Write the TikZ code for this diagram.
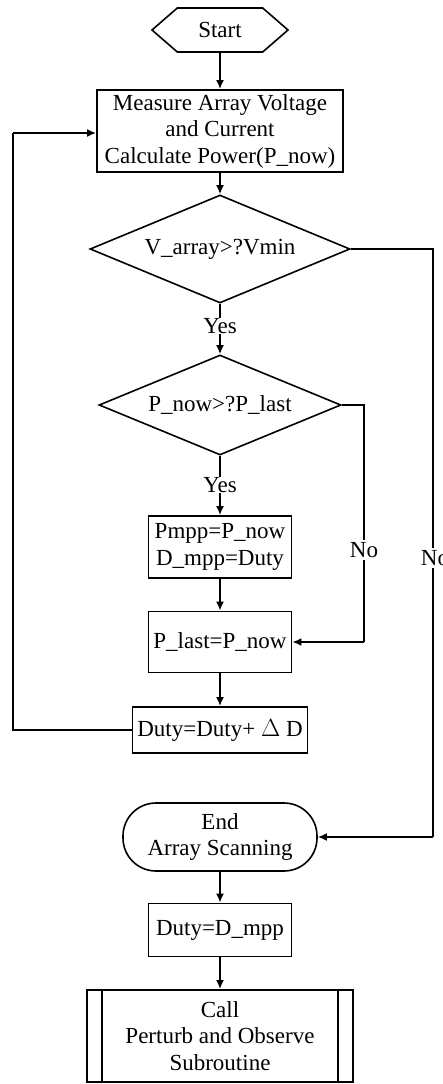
\documentclass[tikz,border=0pt]{standalone}
\usepackage{fontspec}
\setmainfont{Liberation Serif}
\usetikzlibrary{shapes.geometric,shapes.symbols,arrows.meta}
\begin{document}
\begin{tikzpicture}[x=1pt,y=-1pt,
  every node/.style={font=\fontsize{23}{26.5}\selectfont, align=center, inner sep=0pt},
  box/.style={draw, line width=1.8pt, rectangle},
  dec/.style={draw, line width=1.6pt, diamond, aspect=2.4},
  line/.style={line width=1.8pt},
  arr/.style={line width=1.8pt, -{Latex[length=9pt,width=8pt]}},
  lbl/.style={fill=white, inner sep=2pt}]
\useasboundingbox (0,0) rectangle (443,1084);
\node[draw, line width=1.6pt, signal, signal to=east and west, signal pointer angle=82,
      minimum width=136pt, minimum height=44pt] (start) at (220,30) {Start};
\node[box, minimum width=246pt, minimum height=82pt] (meas) at (220,131)
  {Measure Array Voltage\\and Current\\Calculate Power(P\_now)};
\node[dec, minimum width=260pt, minimum height=108pt] (d1) at (220,249) {V\_array>?Vmin};
\node (yes1) at (220,326) {Yes};
\node[dec, minimum width=242pt, minimum height=100pt] (d2) at (220,405) {P\_now>?P\_last};
\node (yes2) at (220,485) {Yes};
\node[box, minimum width=143pt, minimum height=62pt] (pmpp) at (220,547) {Pmpp=P\_now\\D\_mpp=Duty};
\node[box, minimum width=143pt, minimum height=61pt] (plast) at (220,642) {P\_last=P\_now};
\node[box, minimum width=175pt, minimum height=46pt] (duty) at (220,730) {Duty=Duty+ $\Delta$ D};
\node[draw, line width=1.6pt, rectangle, rounded corners=33pt, minimum width=194pt, minimum height=68pt] (end) at (220,837)
  {End\\Array Scanning};
\node[box, minimum width=143pt, minimum height=53pt] (dmpp) at (220,930) {Duty=D\_mpp};
\node[box, minimum width=266pt, minimum height=92pt] (call) at (220,1036)
  {Call\\Perturb and Observe\\Subroutine};
\draw[line] ([xshift=16pt]call.north west) -- ([xshift=16pt]call.south west);
\draw[line] ([xshift=-16pt]call.north east) -- ([xshift=-16pt]call.south east);
\coordinate (lb) at (13,730);
\coordinate (lt) at (13,133);
\coordinate (r1) at (433,249);
\coordinate (r1b) at (433,837);
\coordinate (r2) at (364,405);
\coordinate (r2b) at (364,642);
\node[lbl] (no1) at (364,550) {No};
\node[lbl] (no2) at (435,558) {No};
\draw[arr] (start) -- (meas);
\draw[arr] (meas) -- (d1);
\draw[line] (d1.south) -- (yes1.north);
\draw[arr] (yes1.south) -- (d2.north);
\draw[line] (d2.south) -- (yes2.north);
\draw[arr] (yes2.south) -- (pmpp.north);
\draw[arr] (pmpp) -- (plast);
\draw[arr] (plast) -- (duty);
\draw[arr] (dmpp) -- (call);
\draw[arr] (end) -- (dmpp);
\draw[line] (duty.west) -- (lb) -- (lt);
\draw[arr] (lt) -- (lt -| meas.west);
\draw[line] (d2.east) -- (r2) -- (no1.north);
\draw[line] (no1.south) -- (r2b);
\draw[arr] (r2b) -- (plast.east);
\draw[line] (d1.east) -- (r1) -- (r1 |- no2.north);
\draw[line] (r1 |- no2.south) -- (r1b);
\draw[arr] (r1b) -- (end.east);
\end{tikzpicture}
\end{document}
